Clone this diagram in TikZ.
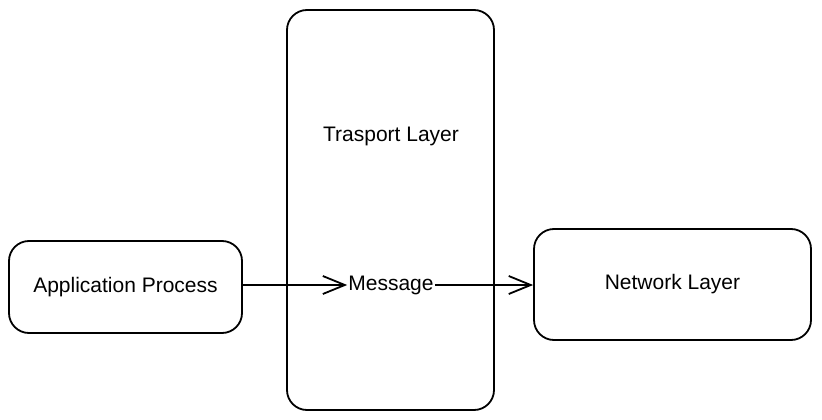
\documentclass[tikz,border=0pt]{standalone}
\usepackage{fontspec}
\setmainfont{Liberation Sans}
\usetikzlibrary{arrows.meta, positioning}
\tikzset{>={Straight Barb[length=22pt, width=18pt, line width=1.8pt]}}
\tikzset{
  layerbox/.style = {draw, line width=1.8pt, rounded corners=20pt, inner sep=0pt},
  lbl/.style = {font=\fontsize{21}{25}\selectfont}
}
\begin{document}
\begin{tikzpicture}[x=1pt, y=-1pt]
\useasboundingbox (0,0) rectangle (822,420);
\node[layerbox, minimum width=207pt, minimum height=400pt] (trans) at (390.5,210) {};
\node[lbl] (translbl) at (391,136) {Trasport Layer};
\node[layerbox, lbl, minimum width=233pt, minimum height=92pt] (app) at (125.5,287) {Application Process};
\node[layerbox, lbl, minimum width=277pt, minimum height=111pt] (net) at (672.5,284.5) {Network Layer};
\node[lbl, inner sep=1pt] (msg) at (391,285) {Message};
\draw[->, line width=1.8pt] (app.east |- msg.west) -- (msg.west);
\draw[->, line width=1.8pt] (msg.east) -- (net.west |- msg.east);
\end{tikzpicture}
\end{document}
